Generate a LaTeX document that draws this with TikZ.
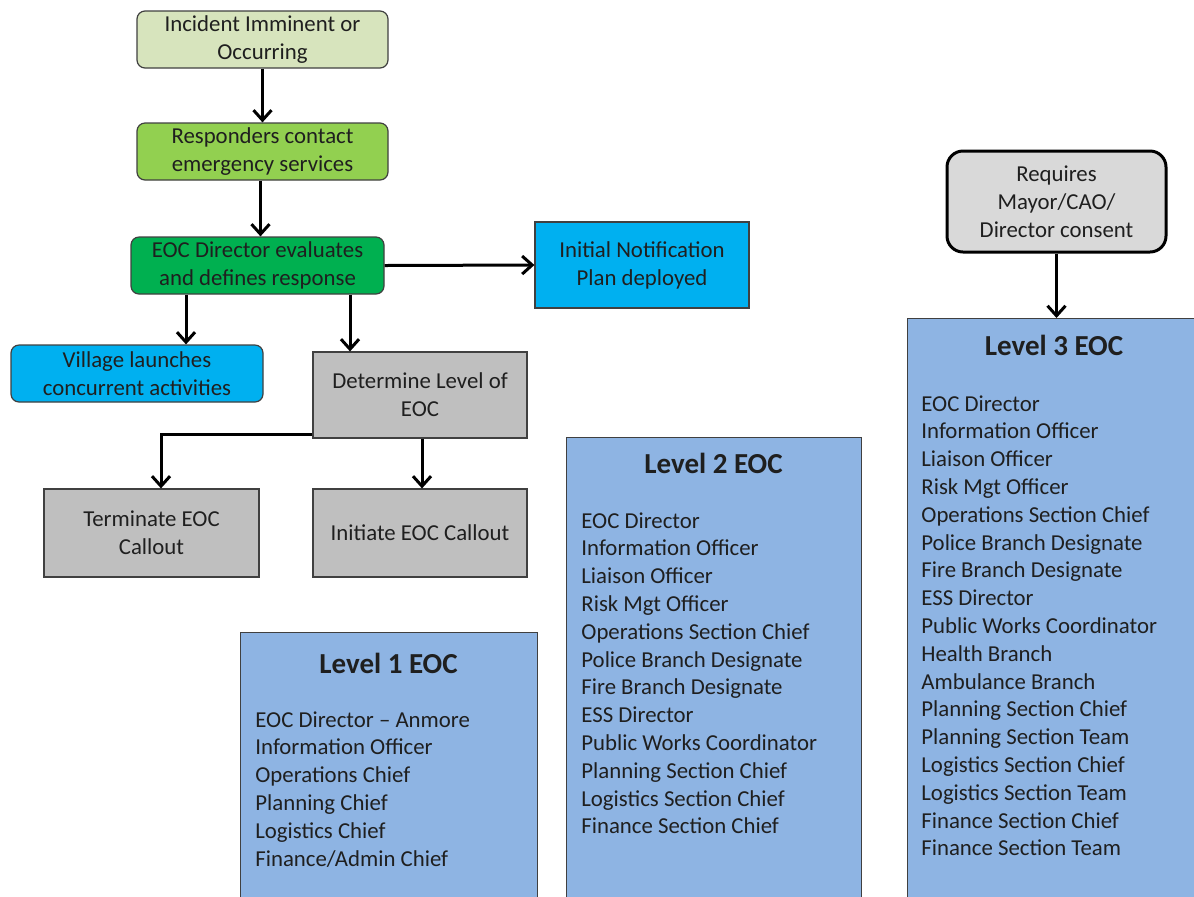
\documentclass[tikz,border=0pt]{standalone}
\usepackage{fontspec}
\setmainfont{Carlito}
\usetikzlibrary{arrows.meta, positioning, calc}
\definecolor{incfill}{HTML}{D7E4BD}
\definecolor{respfill}{HTML}{92D050}
\definecolor{dirfill}{HTML}{00B050}
\definecolor{notefill}{HTML}{00B0F0}
\definecolor{greyfill}{HTML}{BFBFBF}
\definecolor{consentfill}{HTML}{D9D9D9}
\definecolor{levelfill}{HTML}{8EB4E3}
\definecolor{boxline}{HTML}{404040}
\definecolor{inktext}{HTML}{1F1F1F}

\begin{document}
\begin{tikzpicture}[x=0.5pt, y=-0.5pt,
    every node/.style={text=inktext},
    stepbox/.style={
        rectangle, draw=boxline, line width=0.6pt,
        align=center, inner sep=2pt,
        font=\fontsize{11.4}{14}\selectfont,
    },
    roundbox/.style={stepbox, rounded corners=4pt},
    levelbox/.style={
        rectangle, draw=boxline, line width=0.6pt, fill=levelfill,
        anchor=north west, inner sep=0pt,
    },
    leveltitle/.style={font=\fontsize{14.5}{17}\selectfont\bfseries},
    levellist/.style={
        anchor=north west, align=left, inner sep=0pt,
        font=\fontsize{11.4}{13.9}\selectfont,
    },
    flow/.style={
        draw=black, line width=1.5pt,
        -{Straight Barb[length=5pt, width=9pt, line width=1.5pt]},
    },
]
\useasboundingbox (0,0) rectangle (1194,896);

% ── Flow boxes ─────────────────────────────────────────────────────────
\node[roundbox, fill=incfill, minimum width=125.5pt, minimum height=28.5pt]
    (incident) at (262.5,39.5) {Incident Imminent or\\Occurring};
\node[roundbox, fill=respfill, minimum width=125.5pt, minimum height=28.5pt]
    (responders) at (262.5,151.5) {Responders contact\\emergency services};
\node[roundbox, fill=dirfill, minimum width=126.5pt, minimum height=28.5pt]
    (eocdir) at (257.5,265.5) {EOC Director evaluates\\and defines response};
\node[stepbox, fill=notefill, minimum width=107pt, minimum height=43pt]
    (initial) at (642,265) {Initial Notification\\Plan deployed};
\node[roundbox, fill=notefill, minimum width=126pt, minimum height=28.5pt]
    (village) at (137,373.5) {Village launches\\concurrent activities};
\node[stepbox, fill=greyfill, minimum width=107pt, minimum height=43pt]
    (determine) at (420,395) {Determine Level of\\EOC};
\node[stepbox, fill=greyfill, minimum width=107.5pt, minimum height=44pt]
    (terminate) at (151.5,533) {Terminate EOC\\Callout};
\node[stepbox, fill=greyfill, minimum width=107pt, minimum height=44pt]
    (initiate) at (420,533) {Initiate EOC Callout};
\node[roundbox, fill=consentfill, draw=black, line width=1.5pt, rounded corners=8pt,
    minimum width=109.5pt, minimum height=50.5pt]
    (requires) at (1056.5,201.5) {Requires\\Mayor/CAO/\\Director consent};

% ── Level boxes ────────────────────────────────────────────────────────
\node[levelbox, minimum width=148.5pt, minimum height=140pt] (level1) at (240,632) {};
\node[leveltitle] (title1) at (388.5,663) {Level 1 EOC};
\node[levellist] (list1) at (255,711) {EOC Director -- Anmore\\Information Officer\\Operations Chief\\Planning Chief\\Logistics Chief\\Finance/Admin Chief};

\node[levelbox, minimum width=147.5pt, minimum height=235pt] (level2) at (566,437) {};
\node[leveltitle] (title2) at (713.5,463) {Level 2 EOC};
\node[levellist] (list2) at (581,512) {EOC Director\\Information Officer\\Liaison Officer\\Risk Mgt Officer\\Operations Section Chief\\Police Branch Designate\\Fire Branch Designate\\ESS Director\\Public Works Coordinator\\Planning Section Chief\\Logistics Section Chief\\Finance Section Chief};

\node[levelbox, minimum width=144.5pt, minimum height=294pt] (level3) at (907,318) {};
\node[leveltitle] (title3) at (1054,345) {Level 3 EOC};
\node[levellist] (list3) at (921,395) {EOC Director\\Information Officer\\Liaison Officer\\Risk Mgt Officer\\Operations Section Chief\\Police Branch Designate\\Fire Branch Designate\\ESS Director\\Public Works Coordinator\\Health Branch\\Ambulance Branch\\Planning Section Chief\\Planning Section Team\\Logistics Section Chief\\Logistics Section Team\\Finance Section Chief\\Finance Section Team};

% ── Connectors ─────────────────────────────────────────────────────────
\draw[flow] (incident) -- (responders);
\draw[flow] ([xshift=-1pt]responders.south) -- ([xshift=-1pt]responders.south |- eocdir.north);
\draw[flow] (eocdir.east) -- (initial.west);
\draw[flow] ([xshift=-35.75pt]eocdir.south) -- ([xshift=24.5pt]village.north);
\draw[flow] ([xshift=46.25pt]eocdir.south) -- ([xshift=-35pt]determine.north);
\draw[flow] ($(determine.south west)+(0,-4)$) -| ([xshift=4.75pt]terminate.north);
\draw[flow] ([xshift=1pt]determine.south) -- ([xshift=1pt]initiate.north);
\draw[flow] (requires.south) -- (requires.south |- level3.north);

\end{tikzpicture}
\end{document}
